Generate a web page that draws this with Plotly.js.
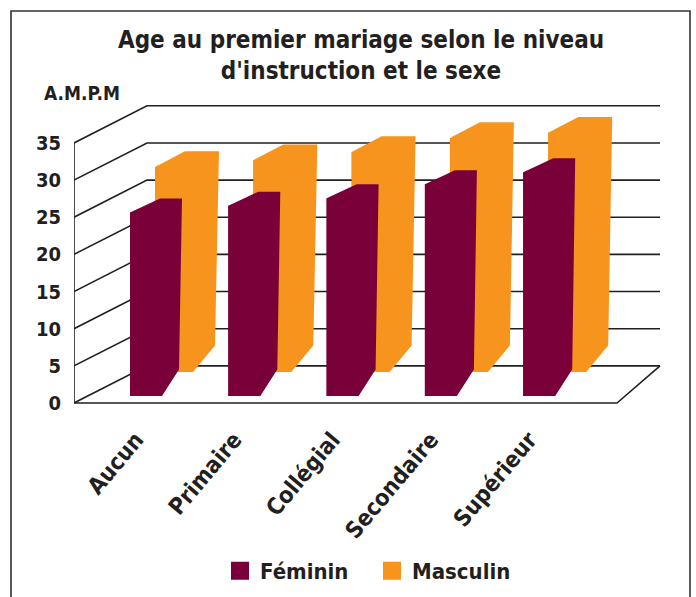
<!DOCTYPE html>
<html>
<head>
<meta charset="utf-8">
<script src="https://cdn.plot.ly/plotly-3.0.1.min.js"></script>
<style>html,body{margin:0;padding:0;background:#fff;}#chart{width:696px;height:597px;}</style>
</head>
<body>
<div id="chart"></div>
<script>
// ---- data ----
const categories = ['Aucun', 'Primaire', 'Collégial', 'Secondaire', 'Supérieur'];
const feminin = [24.7, 25.6, 26.6, 28.5, 30.1];
const masculin = [27.6, 28.5, 29.6, 31.5, 32.2];
const yTicks = [0, 5, 10, 15, 20, 25, 30, 35];
const seriesNames = ['Féminin', 'Masculin'];

// ---- geometry (pixel-ish constants converted to axis units) ----
const SX = 98.3;           // px per category slot (x unit)
const SY = 7.43;           // px per value unit
const W = 696, H = 597;
const M = {l: 74, r: 16, t: 96, b: 187};
const plotW = W - M.l - M.r, plotH = H - M.t - M.b;
const zeroPx = 403 - M.t;  // y of value 0 inside plot area (from top)
const px = p => p / SX;
const depthX = px(73), depthV = 5;
const backRight = px(660 - 74), frontRight = px(617 - 74);

const FONT = "'Liberation Sans Narrow', 'Arial Narrow', 'DejaVu Sans Condensed', 'Roboto', sans-serif";
const INK = '#231f20';
const COL_F = '#7a0039', COL_M = '#f7941e';

// gridlines / walls
const gx = [], gy = [];
yTicks.forEach(v => { gx.push(0, depthX, backRight, null); gy.push(v, v + depthV, v + depthV, null); });
gx.push(0, frontRight, backRight, null); gy.push(0, 0, depthV, null);
gx.push(0, 0); gy.push(0, yTicks[yTicks.length - 1]);

// prism outlines
const fem = {L0: px(130 - 74), base: 7 / SY, a: px(30), w: px(22), side: px(49), fr: px(32), topDv: 14 / SY, sideDv: 26.5 / SY};
const mas = {L0: px(155 - 74), base: 31 / SY, a: px(30), w: px(34), side: px(60), fr: px(38), topDv: 15.7 / SY, sideDv: 26.5 / SY};
function prisms(vals, g) {
  const x = [], y = [];
  vals.forEach((v, i) => {
    const L = g.L0 + i;
    x.push(L, L, L + g.a, L + g.a + g.w, L + g.side, L + g.fr, null);
    y.push(g.base, g.base + v, g.base + v + g.topDv, g.base + v + g.topDv, g.base + g.sideDv, g.base, null);
  });
  return {x, y};
}
function fronts(vals, g) {
  return {x: vals.map((v, i) => g.L0 + i + g.fr / 2), base: vals.map(() => g.base), width: g.fr};
}

const pF = prisms(feminin, fem), pM = prisms(masculin, mas);
const fF = fronts(feminin, fem), fM = fronts(masculin, mas);

const traces = [
  {type: 'bar', x: fM.x, y: masculin, base: fM.base, width: fM.width, marker: {color: COL_M, line: {width: 0}}, showlegend: false, hoverinfo: 'skip'},
  {type: 'bar', x: fF.x, y: feminin, base: fF.base, width: fF.width, marker: {color: COL_F, line: {width: 0}}, showlegend: false, hoverinfo: 'skip'},
  {type: 'scatter', mode: 'lines', x: gx, y: gy, line: {color: INK, width: 1.6}, showlegend: false, hoverinfo: 'skip'},
  {type: 'scatter', mode: 'lines', x: pM.x, y: pM.y, fill: 'toself', fillcolor: COL_M, line: {width: 0, color: COL_M}, showlegend: false, hoverinfo: 'skip'},
  {type: 'scatter', mode: 'lines', x: pF.x, y: pF.y, fill: 'toself', fillcolor: COL_F, line: {width: 0, color: COL_F}, showlegend: false, hoverinfo: 'skip'},
  {type: 'scatter', mode: 'markers', x: [null], y: [null], name: seriesNames[0], marker: {symbol: 'square', size: 16, color: COL_F, line: {color: COL_F, width: 2}}},
  {type: 'scatter', mode: 'markers', x: [null], y: [null], name: seriesNames[1], marker: {symbol: 'square', size: 16, color: COL_M, line: {color: COL_M, width: 2}}}
];

const tickPos = categories.map((c, i) => px(136 - 74) + i);

const layout = {
  width: W, height: H, autosize: false,
  margin: {l: M.l, r: M.r, t: M.t, b: M.b, pad: 0, autoexpand: false},
  paper_bgcolor: '#fff', plot_bgcolor: 'rgba(0,0,0,0)',
  barmode: 'overlay', hovermode: false,
  font: {family: FONT, color: INK},
  title: {text: "Age au premier mariage selon le niveau<br>d'instruction et le sexe",
          font: {family: FONT, size: 24, weight: 'bold', color: INK},
          x: 361 / W, xanchor: 'center', xref: 'container', y: 1 - 48 / H, yanchor: 'top', yref: 'container'},
  xaxis: {range: [0, plotW / SX], showgrid: false, zeroline: false, showline: false, automargin: false,
          tickmode: 'array', tickvals: tickPos, ticktext: categories, tickangle: -50,
          ticks: 'outside', ticklen: 6, tickcolor: 'rgba(0,0,0,0)',
          tickfont: {family: FONT, size: 23, weight: 'bold', color: INK}, fixedrange: true},
  yaxis: {range: [-(plotH - zeroPx) / SY, zeroPx / SY], showgrid: false, zeroline: false, showline: false, automargin: false,
          tickmode: 'array', tickvals: yTicks, ticks: 'outside', ticklen: 8, tickcolor: 'rgba(0,0,0,0)',
          tickfont: {family: FONT, size: 20, weight: 'bold', color: INK}, fixedrange: true},
  legend: {orientation: 'h', xref: 'container', yref: 'container', x: 220 / W, xanchor: 'left', y: 1 - 571 / H, yanchor: 'middle',
           font: {family: FONT, size: 22, weight: 'bold', color: INK}, itemwidth: 30, entrywidth: 107, entrywidthmode: 'pixels',
           bgcolor: 'rgba(0,0,0,0)'},
  annotations: [{text: 'A.M.P.M', xref: 'paper', yref: 'paper', x: (42 - M.l) / plotW, xanchor: 'left',
                 y: (H - M.b - 93) / plotH, yanchor: 'middle', showarrow: false,
                 font: {family: FONT, size: 19, weight: 'bold', color: INK}}],
  shapes: [{type: 'rect', xref: 'paper', yref: 'paper', x0: (11 - M.l) / plotW, x1: (690 - M.l) / plotW,
            y0: (H - M.b - 605) / plotH, y1: (H - M.b - 11) / plotH, line: {color: '#333', width: 1.6}, layer: 'below'}]
};

Plotly.newPlot('chart', traces, layout, {displayModeBar: false, staticPlot: true});
</script>
</body>
</html>
